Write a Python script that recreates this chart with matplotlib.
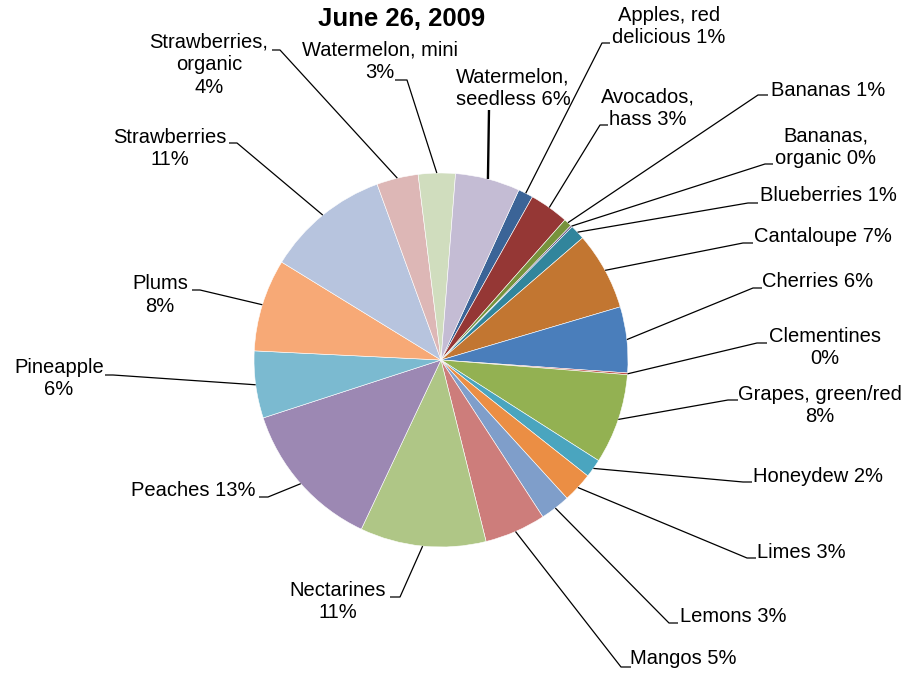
import matplotlib
matplotlib.use("Agg")
import matplotlib.pyplot as plt
import numpy as np

# ---- data ----
categories = ["Apples, red delicious", "Avocados, hass", "Bananas", "Bananas, organic",
              "Blueberries", "Cantaloupe", "Cherries", "Clementines", "Grapes, green/red",
              "Honeydew", "Limes", "Lemons", "Mangos", "Nectarines", "Peaches", "Pineapple",
              "Plums", "Strawberries", "Strawberries, organic", "Watermelon, mini",
              "Watermelon, seedless"]
values = [1.3, 3.4, 0.7, 0.15, 1.3, 6.75, 5.7, 0.15, 7.8, 1.6, 2.6, 2.6, 5.3,
          10.9, 13.0, 5.8, 8.0, 10.7, 3.6, 3.2, 5.6]
label_formats = ["Apples, red\ndelicious {}%", "Avocados,\nhass {}%", "Bananas {}%",
                 "Bananas,\norganic {}%", "Blueberries {}%", "Cantaloupe {}%",
                 "Cherries {}%", "Clementines\n{}%", "Grapes, green/red\n{}%",
                 "Honeydew {}%", "Limes {}%", "Lemons {}%", "Mangos {}%",
                 "Nectarines\n{}%", "Peaches {}%", "Pineapple\n{}%", "Plums\n{}%",
                 "Strawberries\n{}%", "Strawberries,\norganic\n{}%",
                 "Watermelon, mini\n{}%", "Watermelon,\nseedless {}%"]
title = "June 26, 2009"

# ---- style ----
colors = ["#3B6497", "#953735", "#77933C", "#604A7B", "#31859C", "#C27631",
          "#4A7EBB", "#BE4B48", "#93B152", "#4AA5BF", "#EB8E44", "#7F9ECA",
          "#CD7D7B", "#AFC686", "#9C88B3", "#7BBAD0", "#F7A976", "#B7C4DE",
          "#DDB7B6", "#D0DDBE", "#C4BCD4"]

# label layout in pixel coords (x from left, y from top):
# text block centre, stub end next to text, elbow where the leader bends
text_pos = [(669, 26.5), (648, 108), (828, 90), (826, 147), (828, 196), (823, 237),
            (818, 282), (825, 347.5), (820, 405.5), (818, 477), (801, 553), (733, 616),
            (683, 659), (338, 601.5), (193, 490), (59, 378.5), (160, 295), (170, 148.5),
            (209, 65), (380, 61.5), (513, 88)]
stub_pos = [(610, 43), (608, 125), (768, 95), (773, 164), (758, 203), (753, 243),
            (762, 288), (767, 343), (738, 400), (752, 482), (756, 558), (678, 623),
            (631, 667), (390, 597), (259, 497), (105, 375), (192, 290), (229, 143),
            (272, 50), (395, 80), (489, 110)]
elbow_pos = [(602, 43), (600, 125), (758, 95), (765, 164), (748, 203), (743, 243),
             (753, 288), (757, 343), (728, 400), (743, 482), (747, 558), (669, 623),
             (621, 667), (400, 597), (268, 497), (113, 375), (200, 290), (237, 143),
             (280, 50), (407, 80), (489, 110)]
line_widths = [0.9] * 20 + [1.7]

W, H = 904, 674
plt.rcParams['font.family'] = ['Liberation Sans', 'DejaVu Sans']

fig = plt.figure(figsize=(W / 100, H / 100), dpi=100)
fig.patch.set_facecolor("white")
ax = fig.add_axes([0, 0, 1, 1])

center = (441, H - 360)
radius = 187
wedges, _ = ax.pie(values, colors=colors, startangle=90 - 24.6, counterclock=False,
                   center=center, radius=radius,
                   wedgeprops=dict(edgecolor="white", linewidth=0.4))

ax.set_xlim(0, W)
ax.set_ylim(0, H)
ax.set_aspect("equal")
ax.axis("off")

total = sum(values)
for w, v, fmt, tp, sp, ep, lw in zip(wedges, values, label_formats, text_pos,
                                     stub_pos, elbow_pos, line_widths):
    pct = int(round(v / total * 100))
    mid = np.deg2rad((w.theta1 + w.theta2) / 2)
    rx = center[0] + radius * np.cos(mid)
    ry = center[1] + radius * np.sin(mid)
    xs = [rx, ep[0], sp[0]]
    ys = [ry, H - ep[1], H - sp[1]]
    ax.plot(xs, ys, color="black", linewidth=lw, solid_capstyle="butt")
    ax.text(tp[0], H - tp[1], fmt.format(pct), ha="center", va="center",
            multialignment="center", fontsize=14.5, linespacing=1.25, color="black")

ax.text(402, H - 19, title, ha="center", va="center", fontsize=18.5,
        fontweight="bold", color="black")

fig.savefig("out.png", dpi=100, facecolor="white")
